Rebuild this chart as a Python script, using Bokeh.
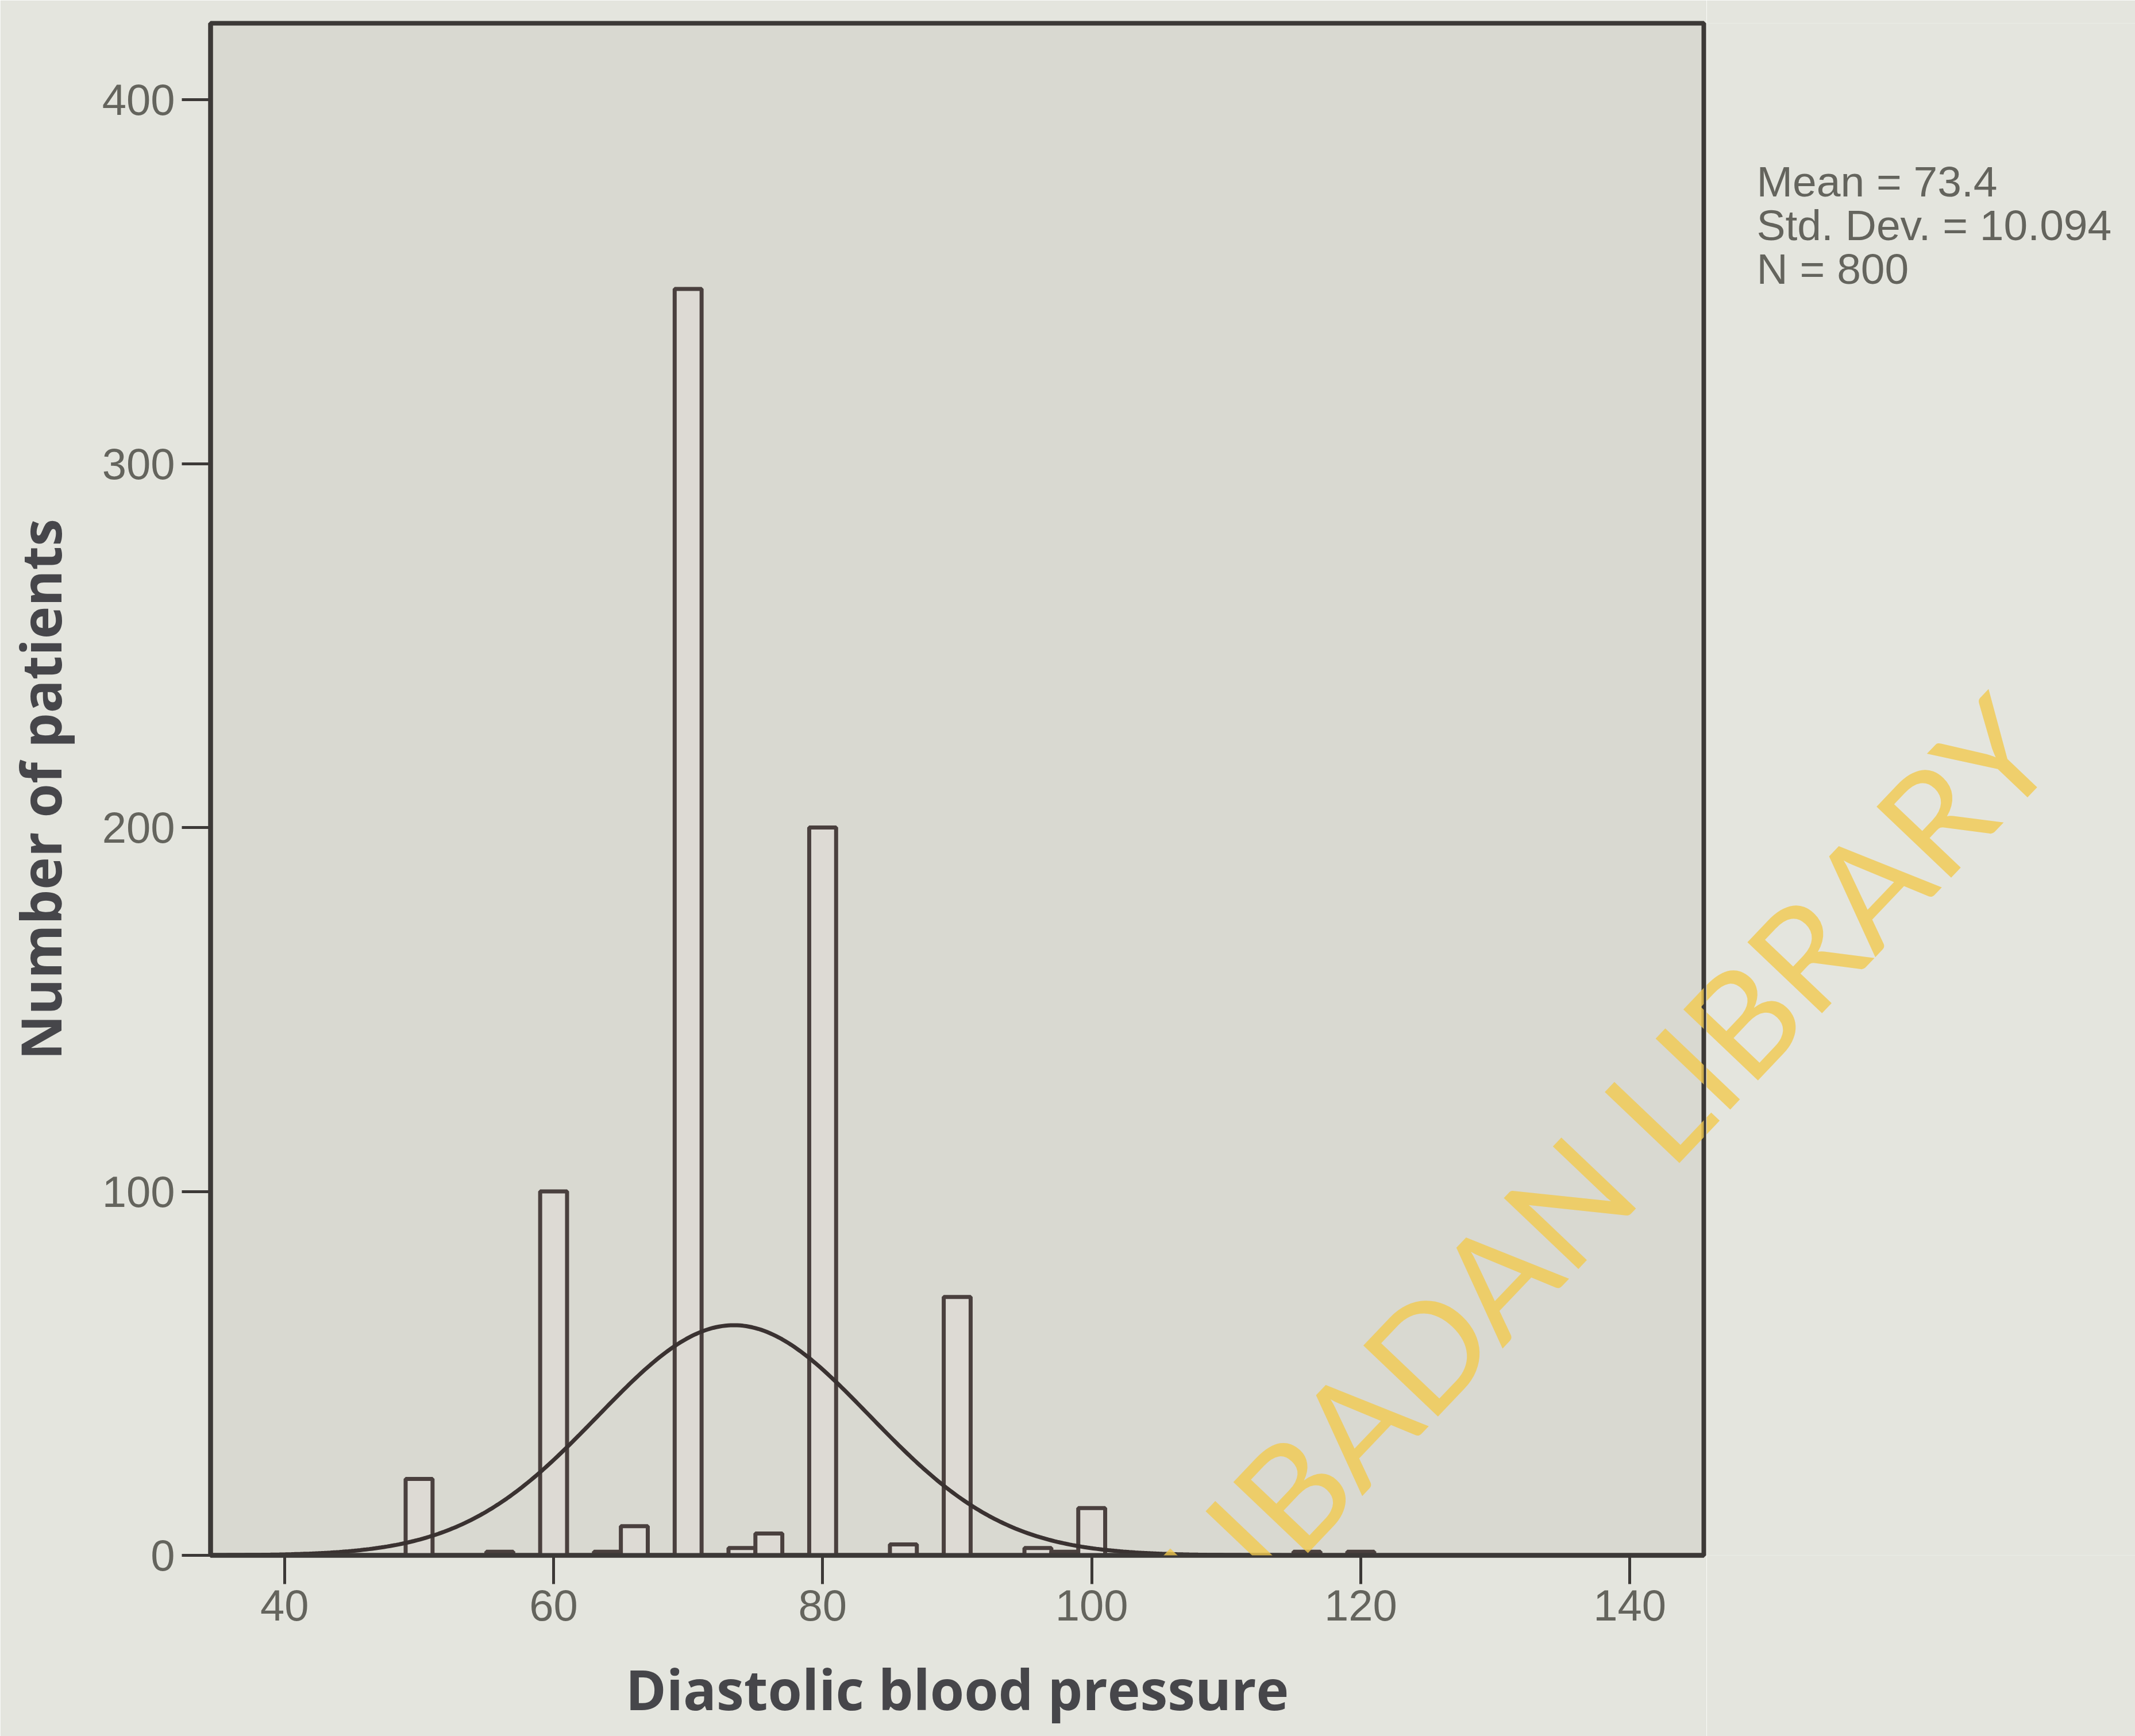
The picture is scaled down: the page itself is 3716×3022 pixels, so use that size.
import numpy as np
from bokeh.plotting import figure
from bokeh.layouts import row
from bokeh.models import ColumnDataSource, Label, FixedTicker
from bokeh.embed import file_html
from bokeh.resources import INLINE

# Histogram of diastolic blood pressure (bins of width 2 mmHg)
bin_centers = [50, 56, 60, 64, 66, 70, 74, 76, 80, 86, 90, 96, 98, 100, 116, 120]
counts = [21, 1, 100, 1, 8, 348, 2, 6, 200, 3, 71, 2, 1, 13, 1, 1]
bin_width = 2

# Summary statistics shown beside the chart
mean_bp = 73.4
sd_bp = 10.094
n_patients = 800

x_ticks = [40, 60, 80, 100, 120, 140]
y_ticks = [0, 100, 200, 300, 400]

W, H = 3716, 3022
MAIN_W = 2970          # main chart canvas; the side panel fills the rest
outside = "#e4e5de"
inside = "#d9d9d1"
ink = "#3c3937"
label_grey = "#64645d"

p = figure(width=MAIN_W, height=H, x_range=(34.5, 145.5), y_range=(0, 421),
           output_backend="svg", toolbar_location=None, title=None,
           min_border_left=355, min_border_right=MAIN_W - 2965,
           min_border_top=40, min_border_bottom=H - 2707)
p.background_fill_color = inside
p.border_fill_color = outside
p.outline_line_color = ink
p.outline_line_width = 8
p.grid.visible = False

src = ColumnDataSource(dict(x=bin_centers, top=counts))
p.vbar(x="x", top="top", bottom=0, width=bin_width, source=src,
       fill_color="#dddad4", line_color="#4a403e", line_width=7)

# Normal curve scaled to the histogram
xs = np.linspace(34.5, 145.5, 500)
ys = n_patients * bin_width * np.exp(-0.5 * ((xs - mean_bp) / sd_bp) ** 2) / (sd_bp * np.sqrt(2 * np.pi))
p.line(xs, ys, line_color="#3a3231", line_width=7)

for ax in (p.xaxis[0], p.yaxis[0]):
    ax.axis_line_color = ink
    ax.axis_line_width = 8
    ax.major_tick_line_color = ink
    ax.major_tick_line_width = 5
    ax.major_tick_in = 0
    ax.major_tick_out = 50
    ax.minor_tick_line_color = None
    ax.major_label_text_font = "Liberation Sans"
    ax.major_label_text_font_size = "76px"
    ax.major_label_text_color = label_grey
    ax.axis_label_text_font = "Open Sans"
    ax.axis_label_text_font_style = "bold"
    ax.axis_label_text_font_size = "96px"
    ax.axis_label_text_color = "#46464a"

p.xaxis.ticker = FixedTicker(ticks=x_ticks)
p.yaxis.ticker = FixedTicker(ticks=y_ticks)
p.xaxis.axis_label = "Diastolic blood pressure"
p.yaxis.axis_label = "Number of patients"
p.xaxis.major_label_standoff = 10
p.yaxis.major_label_standoff = 12
p.xaxis.axis_label_standoff = 50
p.yaxis.axis_label_standoff = 40

# Side panel holding the summary statistics
side = figure(width=W - MAIN_W, height=H, x_range=(0, 1), y_range=(0, 1),
              output_backend="svg", toolbar_location=None, title=None,
              x_axis_type=None, y_axis_type=None,
              min_border_left=0, min_border_right=0, min_border_top=0, min_border_bottom=0)
side.background_fill_color = outside
side.border_fill_color = outside
side.outline_line_color = None
side.grid.visible = False

stats = [f"Mean = {mean_bp}", f"Std. Dev. = {sd_bp}", f"N = {n_patients}"]
for i, line in enumerate(stats):
    side.add_layout(Label(x=3057 - MAIN_W, y=315 + 76 * i, x_units="canvas", y_units="canvas",
                          text=line, text_baseline="middle", text_align="left",
                          text_font="Liberation Sans", text_font_size="75px",
                          text_color=label_grey))

# Library watermark running diagonally across both panels
wm = dict(text="UNIVERSITY OF IBADAN LIBRARY", angle=0.81,
          text_align="right", text_baseline="middle",
          text_font="Lato", text_font_size="250px",
          text_color="#f1c94f", text_alpha=0.8, level="overlay",
          x_units="canvas", y_units="canvas", y=1244)
p.add_layout(Label(x=3531, **wm))
side.add_layout(Label(x=3531 - MAIN_W, **wm))

layout = row(p, side, spacing=0)
open("out.html", "w").write(file_html(layout, INLINE))
